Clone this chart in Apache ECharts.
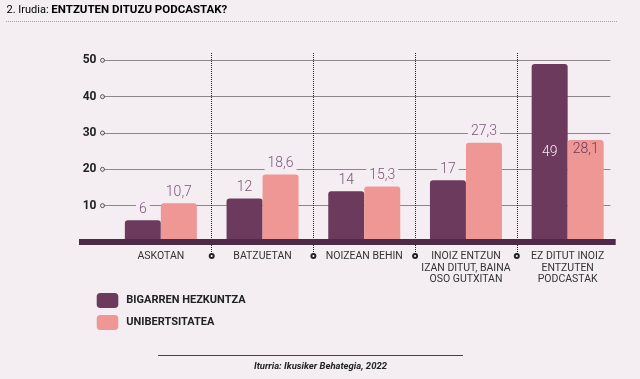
<!DOCTYPE html>
<html><head><meta charset="utf-8">
<script src="https://cdn.jsdelivr.net/npm/echarts@6/dist/echarts.min.js"></script>
<style>html,body{margin:0;padding:0;background:#f4eef3}#c{width:640px;height:379px}</style>
</head><body><div id="c"></div>
<script>
// ---- data ----
const categories = ['ASKOTAN', 'BATZUETAN', 'NOIZEAN BEHIN', 'INOIZ ENTZUN\nIZAN DITUT, BAINA\nOSO GUTXITAN', 'EZ DITUT INOIZ\nENTZUTEN\nPODCASTAK'];
const seriesNames = ['BIGARREN HEZKUNTZA', 'UNIBERTSITATEA'];
const secondaryValues = [6, 12, 14, 17, 49];
const universityValues = [10.7, 18.6, 15.3, 27.3, 28.1];
const yTicks = [10, 20, 30, 40, 50];
const titlePrefix = '2. Irudia: ';
const titleMain = 'ENTZUTEN DITUZU PODCASTAK?';
const sourceText = 'Iturria: Ikusiker Behategia, 2022';

// ---- style ----
const BG = '#f4eef3';
const DARK = '#6b3a5c';
const PINK = '#ee9795';
const BAND = '#4e2a48';
const LABEL = '#7b5575';
const FONT = 'Roboto, "Noto Sans", sans-serif';

const TOP = 52, ZERO_PX = 242, YMAX = 52.3;
const BOTTOM = 379 - ZERO_PX;
const SEP_BOTTOM_PX = 256;

const fmt = v => String(v).replace('.', ',');
const lastIdx = categories.length - 1;
const boundaries = categories.slice(1).map((_, i) => i + 1);

function barData(values, insideStyle) {
  return values.map((v, i) => i === lastIdx ? { value: v, label: insideStyle } : v);
}

const chart = echarts.init(document.getElementById('c'), null, { renderer: 'canvas' });
chart.setOption({
  backgroundColor: BG,
  animation: false,
  textStyle: { fontFamily: FONT },
  grid: [
    { left: 110, right: 21.5, top: TOP, bottom: BOTTOM },
    { left: 102.5, right: 29.3, top: TOP, bottom: BOTTOM },
    { left: 79, right: 24.3, top: TOP, bottom: BOTTOM },
    { left: 110, right: 21.5, top: TOP, bottom: 379 - SEP_BOTTOM_PX }
  ],
  xAxis: [
    { type: 'category', gridIndex: 0, data: categories,
      axisLine: { show: false }, axisTick: { show: false }, splitLine: { show: false },
      axisLabel: { color: '#333', fontSize: 10.5, lineHeight: 11.5, margin: 9, interval: 0, fontFamily: FONT } },
    { type: 'value', gridIndex: 3, min: 0, max: categories.length, show: false },
    { type: 'value', gridIndex: 1, min: 0, max: 1, show: false },
    { type: 'value', gridIndex: 2, min: 0, max: 1, z: 10, offset: 1,
      axisLine: { show: true, lineStyle: { color: BAND, width: 6, cap: 'butt' } },
      axisTick: { show: false }, axisLabel: { show: false }, splitLine: { show: false } }
  ],
  yAxis: [
    { type: 'value', gridIndex: 0, min: 0, max: YMAX, show: false },
    { type: 'value', gridIndex: 1, min: 0, max: YMAX, interval: 10,
      axisLine: { show: false }, axisTick: { show: false },
      axisLabel: { color: '#222', fontSize: 12, fontWeight: 'bold', margin: 6, fontFamily: FONT,
        formatter: v => yTicks.indexOf(v) >= 0 ? String(v) : '' },
      splitLine: { show: true, showMinLine: false, showMaxLine: false,
        lineStyle: { color: '#222', type: [1, 1], width: 1 } } },
    { type: 'value', gridIndex: 2, min: 0, max: YMAX, show: false },
    { type: 'value', gridIndex: 3, min: 0, max: 1, show: false }
  ],
  legend: {
    data: seriesNames, orient: 'vertical', left: 91.7, top: 288,
    itemWidth: 21.6, itemHeight: 15, itemGap: 7, icon: 'roundRect',
    textStyle: { color: '#222', fontSize: 11, fontWeight: 'bold', fontFamily: FONT, padding: [0, 0, 0, 3] }
  },
  series: [
    { name: 'separators', type: 'line', xAxisIndex: 1, yAxisIndex: 3, silent: true,
      data: boundaries.map(b => [b, 0]), showSymbol: false, symbol: 'none',
      lineStyle: { opacity: 0, width: 0 }, z: 12,
      markLine: { silent: true, animation: false, symbolSize: 4, label: { show: false },
        lineStyle: { color: '#222', type: [1, 1], width: 1 },
        data: boundaries.map(b => [
          { coord: [b, 0], symbol: 'emptyCircle' },
          { coord: [b, 1], symbol: 'none' }
        ]) } },
    { name: seriesNames[0], type: 'bar', xAxisIndex: 0, yAxisIndex: 0,
      data: barData(secondaryValues, { position: 'inside', color: '#f5e6ef', backgroundColor: 'transparent' }),
      barWidth: 36, barGap: '0%', z: 2,
      itemStyle: { color: DARK, borderRadius: [3, 3, 0, 0] },
      label: { show: true, position: 'top', distance: 4, color: LABEL, fontSize: 14, fontWeight: 300,
        fontFamily: FONT, backgroundColor: BG, padding: [0, 3], formatter: p => fmt(p.value) } },
    { name: seriesNames[1], type: 'bar', xAxisIndex: 0, yAxisIndex: 0,
      data: barData(universityValues, { position: 'insideTop', distance: 3, color: DARK, backgroundColor: 'transparent' }),
      barWidth: 36, barGap: '0%', z: 2,
      itemStyle: { color: PINK, borderRadius: [3, 3, 0, 0] },
      label: { show: true, position: 'top', distance: 4, color: LABEL, fontSize: 14, fontWeight: 300,
        fontFamily: FONT, backgroundColor: BG, padding: [0, 3], formatter: p => fmt(p.value) } },
    { name: 'ticks', type: 'scatter', xAxisIndex: 2, yAxisIndex: 1, clip: false, silent: true, z: 5,
      data: yTicks.map(t => [0, t]), symbol: 'circle', symbolSize: 4,
      itemStyle: { color: BG, borderColor: '#333', borderWidth: 1 } }
  ],
  graphic: [
    { type: 'text', left: 6.5, top: 4, style: {
        text: '{a|' + titlePrefix + '}{b|' + titleMain + '}',
        rich: { a: { fontSize: 11, color: '#333', fontFamily: FONT },
                b: { fontSize: 11.5, fontWeight: 'bold', color: '#6b3a5e', fontFamily: FONT } } } },
    { type: 'line', shape: { x1: 6, y1: 21.5, x2: 617, y2: 21.5 },
      style: { stroke: '#a99ba6', lineWidth: 1, lineDash: [1, 1] } },
    { type: 'line', shape: { x1: 158, y1: 355.5, x2: 463, y2: 355.5 },
      style: { stroke: '#444', lineWidth: 1 } },
    { type: 'text', x: 320.5, y: 367, style: {
        text: sourceText, align: 'center', verticalAlign: 'middle',
        font: 'italic bold 9.5px ' + FONT, fill: '#222' } }
  ]
});
</script>
</body></html>
